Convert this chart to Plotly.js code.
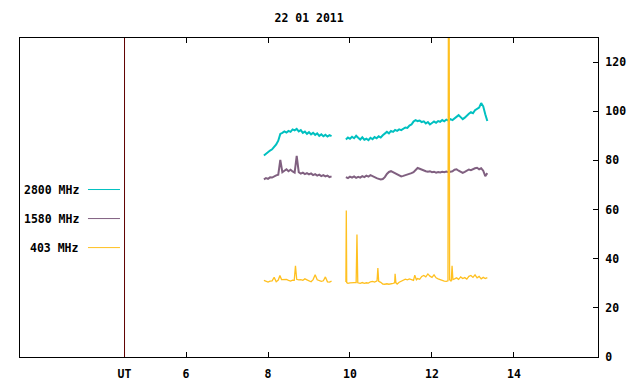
<!DOCTYPE html>
<html>
<head>
<meta charset="utf-8">
<script src="https://cdn.plot.ly/plotly-3.0.1.min.js"></script>
<style>html,body{margin:0;padding:0;background:#fff;}#chart{width:640px;height:384px;}</style>
</head>
<body>
<div id="chart"></div>
<script>
// ---- Data (hours UT, solar flux units) ----
const chartTitle = "22 01 2011";
const seriesNames = ["2800 MHz", "1580 MHz", "403 MHz"];
const seriesColors = ["#00c0c0", "#806080", "#ffc020"];

const timeA = [7.90,7.95,8.00,8.05,8.10,8.15,8.20,8.25,8.30,8.35,8.40,8.45,8.50,8.55,8.60,8.65,8.70,8.75,8.80,8.85,8.90,8.95,9.00,9.05,9.10,9.15,9.20,9.25,9.30,9.35,9.40,9.45,9.50,9.55];
const timeB = [9.90,9.95,10.00,10.05,10.10,10.15,10.20,10.25,10.30,10.35,10.40,10.45,10.50,10.55,10.60,10.65,10.70,10.75,10.80,10.85,10.90,10.95,11.00,11.05,11.10,11.15,11.20,11.25,11.30,11.35,11.40,11.45,11.50,11.55,11.60,11.65,11.70,11.75,11.80,11.85,11.90,11.95,12.00,12.05,12.10,12.15,12.20,12.25,12.30,12.35,12.40,12.45,12.50,12.55,12.60,12.65,12.70,12.75,12.80,12.85,12.90,12.95,13.00,13.05,13.10,13.15,13.20,13.25,13.30,13.35];

const flux2800A = [82,82.8,83.5,84,84.5,85.3,86.5,88,90.8,91.2,91.8,91.3,92,91.6,92.6,92.2,92.8,91.8,92.3,91.2,91.7,90.8,91.5,90.6,91.2,90.4,91,90,90.6,89.8,90.4,89.7,90.3,89.9];
const flux2800B = [88.5,89.3,88.8,89.6,89,90,89.2,88.5,89.4,88.4,88.8,88.2,89.2,88.6,89.5,89,89.8,89.3,90.2,90.8,91.6,91,92,91.6,92.4,92,92.6,92.3,93,93.4,93.2,94.2,94.6,95.8,96.4,96,96.2,95.6,95.9,95,95.6,94.6,95.2,95.8,95.3,96,95.7,96.4,95.9,96.6,96.2,96.8,96.4,97.2,97.6,98.4,97.6,96.8,97.4,98.4,99,99.6,99.2,100.4,100.8,101.5,103.3,102,98.8,96];

const flux1580A = [72.3,72.8,72.5,73.1,73,73.6,73.9,74.2,80.2,75.2,75.8,76.4,75.6,76.2,75.5,75,81.8,75.2,74.6,75,74.4,74.8,74.3,74.7,74,74.4,73.8,74.2,73.6,74,73.5,73.8,73.2,73.5];
const flux1580B = [73.2,72.8,73.4,73,73.5,72.9,73.3,73,73.6,73.2,73.8,73.4,74,73.5,73.2,72.8,72.5,72.2,72.4,73.2,74.5,75.3,75.6,75.2,74.8,74.3,73.8,73.5,73.7,73.9,74.2,74.5,74.8,75.2,76.2,76.9,76.6,76.2,76,75.6,75.4,75.6,75.2,75.4,75,75.3,75.1,75.4,75.2,75.5,75.2,75.4,75.6,76.2,76.4,75.8,75.4,74.9,75.3,75.8,76.3,76,76.5,76.8,77,76.4,76.8,75.8,73.6,74.8];

const time403A = [7.90,7.95,8.00,8.05,8.10,8.15,8.20,8.25,8.29,8.33,8.40,8.45,8.50,8.55,8.60,8.64,8.67,8.70,8.75,8.80,8.85,8.90,8.95,9.00,9.05,9.10,9.15,9.20,9.25,9.30,9.35,9.40,9.45,9.50,9.55];
const flux403A = [31.2,30.8,30.5,30.9,31,32.4,30.6,31.3,33.2,31.5,31.4,31.6,31.2,30.9,31.3,31.2,37.1,31.6,31.4,31.5,31.2,31.8,31.4,31,30.6,31.5,33.5,31.4,31.2,30.8,31,32.6,30.6,30.5,30.9];
const time403B = [9.90,9.91,9.92,9.95,10.00,10.05,10.10,10.15,10.17,10.19,10.25,10.30,10.35,10.40,10.45,10.50,10.55,10.60,10.66,10.68,10.70,10.75,10.80,10.85,10.90,10.95,11.00,11.05,11.09,11.10,11.12,11.15,11.20,11.25,11.30,11.35,11.40,11.45,11.50,11.55,11.58,11.62,11.65,11.70,11.75,11.80,11.85,11.90,11.95,12.00,12.05,12.10,12.15,12.20,12.25,12.30,12.35,12.39,12.40,12.42,12.43,12.47,12.49,12.51,12.55,12.60,12.65,12.70,12.75,12.80,12.85,12.90,12.95,13.00,13.05,13.10,13.15,13.20,13.25,13.30,13.35];
const flux403B = [30.5,59.6,30.3,30,30.2,30.4,30.3,30.3,49.8,30.2,30,30.3,30,30.2,30.1,30.6,30.8,30.5,31,36.2,30.8,30.4,29.7,29.6,29.8,29.6,29.7,30,30.2,33.9,30.2,29.7,30.4,30.8,31.2,31.7,31.4,31.8,31.5,31.2,33.3,31.4,31.9,31.6,32.8,33.2,32.6,33.8,32.9,32.4,33.4,32.2,31.8,31.4,31.2,30.9,30.8,31,135,135,31.4,30.8,37.1,31.5,31.8,32.2,31.6,32.6,31.9,32.3,31.7,32.8,33.2,32.4,33.4,32.2,32.8,31.8,32.4,31.9,32.3];

const xTickVals = [4.5, 6, 8, 10, 12, 14];
const xTickText = ["UT", "6", "8", "10", "12", "14"];
const yTickVals = [0, 20, 40, 60, 80, 100, 120];

// ---- Build traces (null separates the two observing segments) ----
function joinSeg(a, b) { return a.concat([null], b); }
const tA = timeA.concat([9.72], timeB);
const lineWidths = [2, 2, 1.3];
const traces = [
  {x: tA, y: joinSeg(flux2800A, flux2800B), name: seriesNames[0], color: seriesColors[0], w: lineWidths[0]},
  {x: tA, y: joinSeg(flux1580A, flux1580B), name: seriesNames[1], color: seriesColors[1], w: lineWidths[1]},
  {x: time403A.concat([9.72], time403B), y: joinSeg(flux403A, flux403B), name: seriesNames[2], color: seriesColors[2], w: lineWidths[2]}
].map(s => ({
  type: "scatter", mode: "lines", x: s.x, y: s.y, name: s.name,
  connectgaps: false, line: {color: s.color, width: s.w}, hoverinfo: "skip"
}));

const font = {family: "DejaVu Sans Mono, monospace", size: 11.5, color: "#000", weight: "bold"};

// manual legend on the left, like the original
const legendY = [0.525, 0.434, 0.343];
const shapes = [
  {type: "line", xref: "x", yref: "paper", x0: 4.5, x1: 4.5, y0: 0, y1: 1, line: {color: "#600000", width: 1}}
];
const annotations = [];
seriesNames.forEach((n, i) => {
  shapes.push({type: "line", xref: "paper", yref: "paper", x0: 0.1176, x1: 0.173, y0: legendY[i], y1: legendY[i], line: {color: seriesColors[i], width: 1}});
  annotations.push({xref: "paper", yref: "paper", x: 0.1055, y: legendY[i], xanchor: "right", yanchor: "middle", text: n, showarrow: false, font: font});
});

const layout = {
  width: 640, height: 384,
  margin: {l: 20, r: 42, t: 38, b: 27, pad: 0},
  paper_bgcolor: "#fff", plot_bgcolor: "#fff",
  title: {text: chartTitle, x: 0.483, xanchor: "center", y: 0.952, yanchor: "middle", font: font},
  font: font,
  showlegend: false,
  xaxis: {
    range: [1.95, 16.05], tickmode: "array", tickvals: xTickVals, ticktext: xTickText,
    ticks: "inside", ticklen: 5, tickcolor: "#000", tickwidth: 1,
    showline: true, linecolor: "#000", linewidth: 1, mirror: "ticks",
    showgrid: false, zeroline: false, tickfont: font, ticklabelstandoff: 6
  },
  yaxis: {
    range: [0, 129.8], side: "right", tickmode: "array", tickvals: yTickVals,
    ticks: "inside", ticklen: 5, tickcolor: "#000", tickwidth: 1,
    showline: true, linecolor: "#000", linewidth: 1, mirror: true,
    showgrid: false, zeroline: false, tickfont: font, ticklabelstandoff: 4
  },
  shapes: shapes,
  annotations: annotations
};

Plotly.newPlot("chart", traces, layout, {staticPlot: true, displayModeBar: false});
</script>
</body>
</html>
